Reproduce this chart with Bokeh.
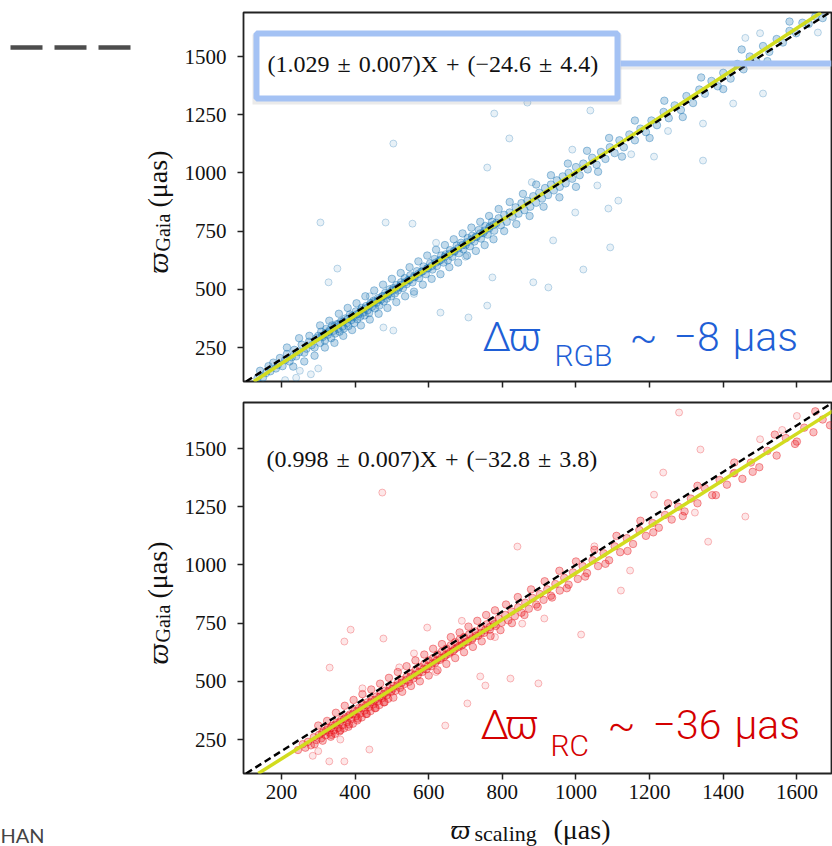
import math
from bokeh.plotting import figure
from bokeh.layouts import column, row
from bokeh.models import Label, BoxAnnotation, Slope, FixedTicker, Range1d
from bokeh.core.properties import value
from bokeh.embed import file_html
from bokeh.resources import INLINE

# ---------------- data ----------------
# RGB panel: dense band of stars along the fit line
rgb_band_x = [135, 142, 150, 158, 165, 170, 178, 185, 190, 196, 203, 210, 215, 222, 228, 235, 240, 248, 255, 262, 268, 275, 282, 290, 295, 300,
              305, 308, 312, 318, 322, 326, 330, 335, 338, 342, 346, 350, 354, 358, 362, 366, 370, 374, 378, 382, 386, 390, 394, 398, 402, 406, 410, 414, 418, 422, 426, 430, 434, 438, 442, 446, 450, 454, 458, 462, 466, 470, 474, 478, 482, 486, 490, 494, 498,
              504, 508, 512, 516, 520, 525, 530, 535, 540, 545, 550, 556, 562, 568, 574, 580, 586, 592, 598, 604, 610, 616, 622, 628, 634, 640, 646, 652, 658, 664, 670, 676, 682, 688, 694, 700, 706, 712, 718, 724, 730, 736, 742, 748, 754, 760, 766, 772, 778, 784, 790, 796,
              805, 812, 820, 828, 836, 844, 852, 860, 868, 876, 884, 892, 900, 908, 916, 924, 932, 940, 948, 956, 964, 972, 980, 990, 1000, 1010, 1020, 1032, 1044, 1056, 1068, 1080, 1092, 1105, 1118, 1130, 1145, 1160, 1175, 1190,
              1205, 1220, 1238, 1252, 1268, 1285, 1300, 1318, 1335, 1350, 1368, 1385, 1400, 1420, 1438, 1455, 1472, 1490, 1508, 1525, 1545, 1562, 1580, 1598, 1615, 1632, 1650, 1670,
              215, 232, 248, 262, 276, 290, 305, 318, 330, 344, 356, 368, 380, 392, 404, 416, 428, 440, 452, 464, 476, 488, 500, 512, 524, 536, 548, 560, 572, 584, 596, 608, 620, 632, 644, 656, 668, 680, 692, 704, 716, 728, 740, 752, 764, 776, 790, 805, 820, 838, 856, 874, 892, 912, 932, 955, 978, 1000, 1030, 1060, 1090, 1125, 1160, 1200, 1240, 1290, 1340, 1400, 1450, 1520, 1580,
              310, 320, 332, 344, 356, 368, 380, 392, 404, 416, 428, 440, 452, 464, 476, 488, 500, 512, 524, 536, 548, 560, 572, 584, 596, 608, 620, 632, 644, 656, 668, 680, 692, 704, 716, 728, 740, 752, 764, 776]
rgb_band_y = [118, 150, 121, 140, 170, 148, 185, 160, 175, 205, 170, 196, 222, 190, 208, 240, 212, 230, 262, 228, 245, 275, 260, 250, 290, 300,
              270, 318, 295, 280, 330, 305, 318, 290, 345, 322, 310, 350, 330, 318, 362, 340, 332, 375, 355, 342, 392, 368, 380, 355, 405, 372, 395, 382, 420, 400, 388, 428, 410, 398, 440, 425, 450, 418, 442, 462, 430, 455, 470, 448, 485, 460, 478, 500, 470,
              505, 482, 518, 495, 510, 530, 505, 548, 522, 540, 560, 530, 552, 578, 548, 575, 598, 565, 590, 612, 585, 630, 600, 622, 645, 615, 650, 625, 668, 640, 662, 688, 655, 700, 672, 690, 720, 685, 730, 705, 725, 755, 718, 742, 772, 735, 770, 790, 752, 785, 805, 775,
              820, 790, 830, 812, 852, 825, 870, 840, 880, 855, 900, 872, 915, 890, 935, 905, 950, 925, 968, 940, 985, 955, 1000, 975, 1025, 990, 1040, 1015, 1065, 1035, 1090, 1060, 1110, 1085, 1140, 1110, 1165, 1140, 1190, 1175,
              1225, 1205, 1262, 1235, 1290, 1270, 1330, 1300, 1358, 1340, 1395, 1372, 1430, 1405, 1468, 1445, 1500, 1480, 1545, 1520, 1575, 1560, 1610, 1600, 1645, 1640, 1672, 1665,
              250, 168, 290, 190, 300, 215, 345, 250, 365, 270, 395, 300, 420, 325, 440, 345, 470, 370, 495, 395, 520, 420, 545, 445, 570, 470, 595, 490, 620, 520, 645, 545, 670, 565, 690, 595, 715, 615, 740, 645, 765, 665, 790, 690, 815, 715, 845, 750, 875, 780, 910, 815, 950, 855, 990, 895, 1040, 940, 1095, 1005, 1150, 1070, 1225, 1150, 1310, 1240, 1410, 1360, 1530, 1480, 1650,
              300, 312, 326, 340, 352, 362, 372, 386, 392, 410, 418, 432, 444, 455, 470, 478, 494, 502, 518, 530, 540, 555, 566, 578, 590, 600, 615, 626, 640, 652, 664, 676, 690, 702, 714, 726, 740, 752, 762, 776]
# RGB panel: scattered outliers
rgb_out_x = [306, 504, 795, 778, 819, 759, 868, 483, 556, 352, 328, 708, 759, 477, 504, 632, 773, 1345, 1212, 1115, 1093, 1020, 925, 884, 938, 1427, 1508, 1039, 1088, 998, 1058, 1345, 1657,
             440, 620, 560, 700, 880, 990, 1150, 1250, 1500, 1460, 240, 280, 300, 210, 250]
rgb_out_y = [787, 1126, 1552, 1255, 1148, 1023, 1302, 787, 782, 589, 530, 379, 430, 336, 323, 400, 551, 1053, 1070, 881, 680, 585, 508, 530, 710, 1298, 1341, 1268, 847, 830, 946, 1212, 1603,
             470, 700, 480, 640, 960, 1100, 1080, 1180, 1600, 1580, 120, 135, 160, 110, 150]

# RC panel: dense band
rc_band_x = [245, 258, 265, 272, 280, 288, 295, 302, 308, 314, 320, 326, 330, 334, 338, 342, 346, 350, 354, 358, 362, 366, 370, 374, 378, 382, 386, 390, 394, 398, 402, 406, 410, 414, 418, 422, 426, 430, 434, 438, 442, 446, 450, 454, 458, 462, 466, 470, 474, 478, 482, 486, 490, 494, 498,
             505, 510, 516, 522, 528, 534, 540, 546, 552, 558, 564, 570, 576, 582, 588, 594, 600, 606, 612, 618, 624, 630, 636, 642, 648, 654, 660, 666, 672, 678, 684, 690, 696, 702, 710, 718, 726, 734, 742, 750, 758, 766, 774, 782, 790, 798,
             808, 816, 825, 834, 843, 852, 862, 872, 882, 892, 902, 912, 922, 932, 944, 956, 968, 980, 992, 1005, 1018, 1030, 1045, 1060, 1075, 1090, 1105, 1120, 1138, 1155, 1172, 1190,
             1208, 1225, 1242, 1260, 1278, 1295, 1312, 1330, 1350, 1370, 1390, 1410, 1430, 1452, 1475, 1498, 1520, 1545, 1570, 1595, 1620, 1645, 1670, 1690,
             290, 300, 312, 324, 336, 348, 360, 372, 384, 396, 408, 420, 432, 444, 456, 468, 480, 492, 504, 516, 528, 540, 552, 564, 576, 588, 600, 612, 624, 636, 648, 660, 672, 684, 696, 708, 720, 732, 744, 756, 768, 780, 795, 810, 826, 842, 860, 878, 896, 915, 935, 955, 975, 1000, 1025, 1050, 1080, 1110, 1140, 1175, 1210, 1250, 1290, 1330, 1380, 1430, 1480, 1540, 1600, 1650,
             310, 322, 334, 346, 358, 370, 382, 394, 406, 418, 430, 442, 454, 466, 478, 490, 502, 514, 526, 538, 550, 562, 574, 586, 598, 610, 622, 634, 646, 658, 670, 682, 694, 706, 718, 730, 742, 754, 766, 778]
rc_band_y = [205, 230, 215, 240, 225, 260, 248, 270, 255, 285, 268, 300, 280, 262, 310, 290, 275, 322, 300, 285, 335, 312, 298, 345, 325, 305, 358, 338, 318, 372, 350, 332, 385, 362, 345, 398, 375, 360, 410, 390, 372, 420, 402, 385, 435, 415, 398, 448, 428, 410, 460, 440, 425, 470, 455,
             480, 460, 495, 472, 505, 488, 520, 498, 535, 512, 548, 525, 562, 540, 575, 552, 590, 565, 600, 580, 615, 592, 628, 605, 640, 618, 655, 630, 668, 645, 680, 655, 690, 668, 702, 680, 715, 695, 730, 708, 745, 722, 760, 738, 770, 752,
             785, 762, 800, 780, 818, 795, 838, 812, 858, 830, 875, 850, 895, 868, 918, 890, 945, 915, 968, 940, 995, 965, 1020, 995, 1050, 1020, 1080, 1055, 1115, 1090, 1150, 1125,
             1180, 1160, 1215, 1195, 1250, 1230, 1285, 1265, 1330, 1300, 1365, 1345, 1395, 1370, 1440, 1420, 1490, 1470, 1545, 1520, 1590, 1570, 1625, 1600,
             230, 310, 245, 330, 270, 365, 290, 395, 315, 420, 340, 445, 360, 465, 385, 490, 410, 515, 430, 540, 455, 565, 480, 590, 500, 615, 525, 640, 548, 660, 575, 690, 600, 710, 625, 735, 648, 760, 672, 785, 695, 805, 720, 830, 750, 862, 785, 895, 820, 930, 860, 975, 900, 1015, 950, 1065, 1005, 1125, 1060, 1190, 1140, 1265, 1210, 1340, 1300, 1440, 1400, 1560, 1530, 1660,
             278, 290, 300, 313, 325, 338, 350, 360, 373, 386, 397, 410, 420, 433, 445, 457, 468, 482, 493, 505, 518, 528, 540, 553, 565, 577, 590, 600, 612, 625, 637, 650, 660, 672, 685, 697, 708, 721, 733, 745]
# RC panel: outliers
rc_out_x = [474, 1280, 388, 331, 477, 371, 841, 1014, 898, 822, 740, 705, 754, 645, 439, 330, 371, 1122, 1147, 1237, 1359, 1460, 1338, 1427, 1323, 854, 914, 596, 1212,
            560, 690, 420, 780, 1050, 1500, 1560, 1600, 300, 285, 360, 520, 620]
rc_out_y = [1311, 1655, 722, 559, 684, 671, 1079, 701, 491, 512, 521, 405, 482, 310, 207, 156, 156, 890, 976, 1397, 1100, 1208, 1496, 1393, 1225, 748, 770, 731, 1302,
            620, 760, 470, 690, 1080, 1540, 1580, 1640, 200, 180, 250, 560, 540]

rgb_fit = [1.029, -24.6]
rc_fit = [0.998, -32.8]
SEP = " \u200a"
rgb_eq = f"(1.029{SEP}±{SEP}0.007)X{SEP}+{SEP}(−24.6{SEP}±{SEP}4.4)"
rc_eq = f"(0.998{SEP}±{SEP}0.007)X{SEP}+{SEP}(−32.8{SEP}±{SEP}3.8)"
rgb_note = ["Δ", "ϖ", "~", "−8", "µas"]
rc_note = ["Δ", "ϖ", "~", "−36", "µas"]
x_ticks = [200, 400, 600, 800, 1000, 1200, 1400, 1600]
y_ticks = [250, 500, 750, 1000, 1250, 1500]

# ---------------- layout constants (page pixels) ----------------
XR = (97, 1694)
FL, FR = 243, 831
LEFT_W = 175
STRIP_H = 33           # bottom strip holding the x-axis title
MAIN_H = 846 - STRIP_H
TOP_YR = (104, 1689)
BOT_YR = (104, 1698)
SERIF = "Liberation Serif"
SANS = "Roboto Light, Roboto"
BLUE_TXT = "#1f5fd6"
RED_TXT = "#d40000"
INK = "#111111"


def xd(px):
    return XR[0] + (px - FL) * (XR[1] - XR[0]) / (FR - FL)


def yt(py):
    return TOP_YR[1] - (py - 12) * (TOP_YR[1] - TOP_YR[0]) / 369.0


def yb(py):
    return BOT_YR[1] - (py - 402) * (BOT_YR[1] - BOT_YR[0]) / 371.0


def make_fig(height, top, bottom, yr):
    p = figure(width=832 - LEFT_W, height=height, x_range=Range1d(*XR), y_range=Range1d(*yr),
               output_backend="svg", toolbar_location=None,
               min_border_left=FL - LEFT_W, min_border_right=832 - FR,
               min_border_top=top, min_border_bottom=bottom)
    p.grid.visible = False
    p.outline_line_color = "#222222"
    p.outline_line_width = 1.8
    p.background_fill_color = "white"
    p.border_fill_color = "white"
    for ax in (p.xaxis[0], p.yaxis[0]):
        ax.axis_line_color = None
        ax.major_tick_line_color = "#222222"
        ax.major_tick_line_width = 1.5
        ax.major_tick_out = 6
        ax.major_tick_in = 0
        ax.minor_tick_line_color = None
        ax.major_label_text_font = SERIF
        ax.major_label_text_font_size = "21px"
        ax.major_label_text_color = INK
    p.xaxis.ticker = FixedTicker(ticks=x_ticks)
    p.yaxis.ticker = FixedTicker(ticks=y_ticks)
    p.yaxis.major_label_standoff = 11
    p.xaxis.major_label_standoff = 5
    return p


def text_fig(width, height):
    p = figure(width=width, height=height, x_range=Range1d(0, width), y_range=Range1d(0, height),
               output_backend="svg", toolbar_location=None, min_border=0,
               min_border_left=0, min_border_right=0, min_border_top=0, min_border_bottom=0,
               x_axis_location=None, y_axis_location=None)
    p.grid.visible = False
    p.outline_line_color = None
    p.background_fill_color = "white"
    p.border_fill_color = "white"
    return p


def lab(p, x, y, text, size, color=INK, font=SERIF, style="normal"):
    # y is the vertical centre of the text line
    p.add_layout(Label(x=x, y=y, text=text, text_font=font, text_font_size=size,
                       text_font_style=style, text_color=color,
                       text_baseline="middle", text_align="left"))


def fit_lines(p, fit):
    p.add_layout(Slope(gradient=fit[0], y_intercept=fit[1], line_color="#d2dc1e", line_width=3.5))
    p.add_layout(Slope(gradient=1.0, y_intercept=0.0, line_color="black", line_width=2.4, line_dash="7 4"))


def note(p, yconv, chars, xs, mid, sub, sub_x, sub_mid, color):
    for ch, px in zip(chars, xs):
        lab(p, xd(px), yconv(mid), ch, "41px", color, SANS)
    lab(p, xd(sub_x), yconv(sub_mid), sub, "30px", color, SANS)


def scatter_pair(p, bx, by, ox, oy, color):
    p.scatter(bx, by, size=7.5, fill_color=color, fill_alpha=0.27,
              line_color=color, line_alpha=0.42, line_width=1)
    p.scatter(ox, oy, size=7, fill_color=color, fill_alpha=0.1,
              line_color=color, line_alpha=0.28, line_width=1)


# ---------------- top panel (RGB) ----------------
top = make_fig(392, 12, 11, TOP_YR)
top.xaxis.major_label_text_font_size = "1px"
top.xaxis.major_label_text_alpha = 0
top.xaxis.major_label_standoff = 0
scatter_pair(top, rgb_band_x, rgb_band_y, rgb_out_x, rgb_out_y, "#1f77b4")
fit_lines(top, rgb_fit)

# highlight box around the equation (slide overlay)
top.add_layout(BoxAnnotation(left=xd(252), right=xd(621), top=yt(34), bottom=yt(104),
                             fill_color="#888888", fill_alpha=0.18, line_color=None))
top.add_layout(BoxAnnotation(left=xd(620), right=None, top=yt(66), bottom=yt(69),
                             fill_color="#999999", fill_alpha=0.2, line_color=None))
top.add_layout(BoxAnnotation(left=xd(620), right=None, top=yt(60), bottom=yt(66),
                             fill_color="#a4c2f4", fill_alpha=1.0, line_color=None))
top.add_layout(BoxAnnotation(left=xd(256), right=xd(617), top=yt(33), bottom=yt(98),
                             fill_color="white", fill_alpha=1.0,
                             line_color="#a4c2f4", line_width=6, line_alpha=1.0))
lab(top, xd(267), yt(63), rgb_eq, "24px")
note(top, yt, rgb_note, [482, 508, 629, 673, 732], 336, "RGB", 554, 355, BLUE_TXT)

# ---------------- bottom panel (RC) ----------------
bot = make_fig(MAIN_H - 392, 10, 40, BOT_YR)
scatter_pair(bot, rc_band_x, rc_band_y, rc_out_x, rc_out_y, "#e8121a")
fit_lines(bot, rc_fit)
lab(bot, xd(266), yb(458), rc_eq, "24px")
note(bot, yb, rc_note, [480, 505, 607, 652, 734], 724, "RC", 550, 745, RED_TXT)

TXT = dict(text_color=INK, text_baseline="middle", text_align="left")

# ---------------- left strip: y-axis titles and slide decoration ----------------
left = text_fig(LEFT_W, MAIN_H)
for off in (0, 391):
    left.text(x=[157], y=[MAIN_H - (273 + off)], text=["ϖ"], angle=math.pi / 2,
              text_font=value(SERIF), text_font_size="30px", text_font_style="italic", **TXT)
    left.text(x=[162, 157], y=[MAIN_H - (251 + off), MAIN_H - (207 + off)], text=["Gaia", "(μas)"],
              angle=math.pi / 2, text_font=value(SERIF), text_font_size=["20px", "28px"], **TXT)
left.line(x=[10, 130], y=[MAIN_H - 47, MAIN_H - 47], line_color="#4d4d4d", line_width=4.5, line_dash="32 12")

# ---------------- bottom strip: x-axis title and slide text ----------------
strip = text_fig(832, STRIP_H)
strip.text(x=[450], y=[846 - 829], text=["ϖ"], text_font=value(SERIF), text_font_size="28px",
           text_font_style="italic", **TXT)
strip.text(x=[474, 553], y=[846 - 833, 846 - 829], text=["scaling", "(μas)"],
           text_font=value(SERIF), text_font_size=["22px", "28px"], **TXT)
strip.text(x=[0], y=[846 - 834], text=["HAN"], text_font=value("Lato"), text_font_size="20px",
           text_color="#444444", text_baseline="middle", text_align="left")

layout = column(row(left, column(top, bot, spacing=0), spacing=0), strip, spacing=0)
open("out.html", "w").write(file_html(layout, INLINE))
